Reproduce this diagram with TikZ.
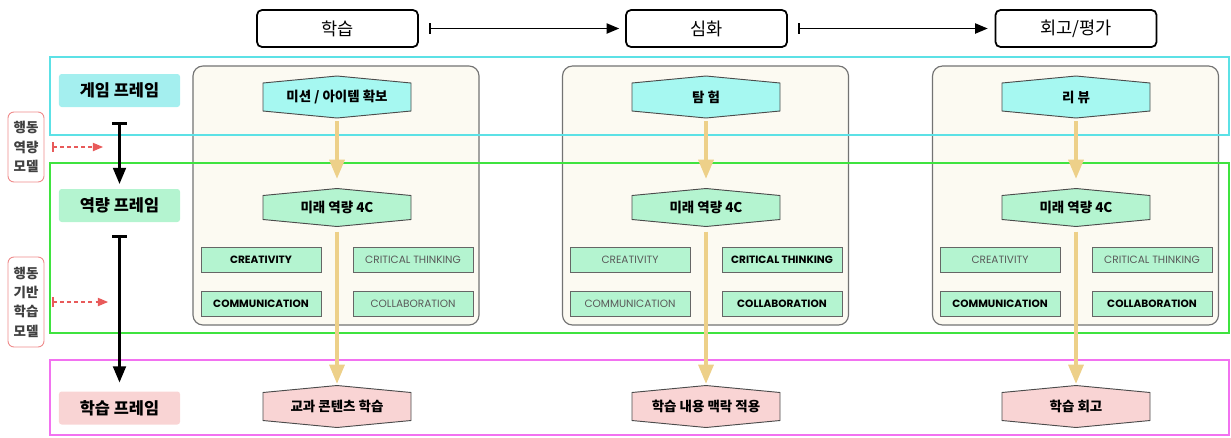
\documentclass[tikz,border=0pt]{standalone}
\usepackage{fontspec}
\setmainfont{Noto Sans CJK KR}
\newfontfamily\capsfont{Poppins}
\usetikzlibrary{arrows}

\definecolor{framecyan}{HTML}{5CE1E6}
\definecolor{framegreen}{HTML}{3FE33F}
\definecolor{framepink}{HTML}{F272F0}
\definecolor{gamefill}{HTML}{A4EFEF}
\definecolor{hexcyan}{HTML}{A6F8F1}
\definecolor{capfill}{HTML}{B4F4D0}
\definecolor{learnfill}{HTML}{F9D4D4}
\definecolor{panelfill}{HTML}{FCFAF2}
\definecolor{goldline}{HTML}{EDD089}
\definecolor{redline}{HTML}{E85A5A}

% hexagon: name, centre, fill, half side, text
\newcommand{\hexbox}[5]{%
  \coordinate (#1) at (#2);
  \draw[hexline,fill=#3] (#1) ++(-74,-#4) -- ++(0,2*#4) -- ++(74,7) -- ++(74,-7)
    -- ++(0,-2*#4) -- ++(-74,-7) -- cycle;
  \node[hextext] (#1-t) at (#1) {#5};
  \path (#1) ++(0,#4+7) coordinate (#1-s);
  \path (#1) ++(0,-#4-7) coordinate (#1-n);
}

\begin{document}
\begin{tikzpicture}[x=0.03cm, y=-0.03cm, >=triangle 45]
	\tikzstyle{stage} = [draw=black, line width=1.5pt, rounded corners=0.15cm, fill=white, minimum width=4.83cm, minimum height=1.11cm, inner sep=0pt, font=\fontsize{15}{17}\selectfont]
	\tikzstyle{framelabel} = [rounded corners=0.08cm, minimum width=3.63cm, minimum height=0.99cm, inner sep=0pt, font=\bfseries\fontsize{14}{16}\selectfont]
	\tikzstyle{modelbox} = [draw=redline!70, line width=0.8pt, rounded corners=0.18cm, fill=white, minimum width=1.08cm, inner sep=0pt, align=center, text=black!75, font=\bfseries\fontsize{11.5}{16.5}\selectfont]
	\tikzstyle{panel} = [draw=black!55, line width=1pt, rounded corners=0.3cm, fill=panelfill, minimum width=8.58cm, minimum height=7.77cm]
	\tikzstyle{hexline} = [draw=black!70, line width=0.8pt]
	\tikzstyle{hextext} = [inner sep=0pt, font=\bfseries\fontsize{11.5}{13}\selectfont]
	\tikzstyle{skill} = [draw=black!60, line width=0.8pt, fill=capfill, minimum width=3.6cm, minimum height=0.75cm, inner sep=0pt, text=black!65, font=\capsfont\fontsize{9}{10}\selectfont]
	\tikzstyle{skillon} = [skill, text=black, font=\capsfont\bfseries\fontsize{9}{10}\selectfont]
	\tikzstyle{goldarrow} = [->, goldline, line width=2.8pt]
	\useasboundingbox (0,0) rectangle (1231,437);

	% three stages
	\node[stage] (learn) at (337.5,28.5) {학습};
	\node[stage] (deepen) at (706.5,28.5) {심화};
	\node[stage] (review) at (1076,28.5) {회고/평가};
	\draw[|->, line width=1.5pt, shorten <=0.3cm, shorten >=0.18cm] (learn) -- (deepen);
	\draw[|->, line width=1.5pt, shorten <=0.3cm, shorten >=0.21cm] (deepen) -- (review);

	% column panels
	\node[panel] (panelA) at (336,195.5) {};
	\node[panel] (panelB) at (705.5,195.5) {};
	\node[panel] (panelC) at (1075.5,195.5) {};

	% frames
	\draw[framecyan, line width=2.5pt] (50,57) rectangle (1229,135);
	\draw[framegreen, line width=2.5pt] (50,163) rectangle (1229,333);
	\draw[framepink, line width=2.5pt] (50,360) rectangle (1229,435);

	% left side
	\node[framelabel, fill=gamefill] (gameframe) at (119.5,90.5) {게임 프레임};
	\node[framelabel, fill=capfill] (capframe) at (119.5,205.5) {역량 프레임};
	\node[framelabel, fill=learnfill] (learnframe) at (119.5,408) {학습 프레임};
	\draw[|->, line width=2.2pt, shorten <=0.45cm, shorten >=0.15cm] (gameframe) -- (capframe);
	\draw[|->, line width=2.2pt, shorten <=0.39cm, shorten >=0.27cm] (capframe) -- (learnframe);

	\node[modelbox, minimum height=2.1cm] (compmodel) at (26,147) {행동\\역량\\모델};
	\node[modelbox, minimum height=2.7cm] (actmodel) at (26,302) {행동\\기반\\학습\\모델};
	\coordinate (comptip) at (103,147);
	\coordinate (acttip) at (108,302);
	\draw[|->, dashed, redline, line width=1pt, shorten <=0.24cm] (compmodel) -- (comptip);
	\draw[|->, dashed, redline, line width=1pt, shorten <=0.24cm] (actmodel) -- (acttip);

	% hexagons
	\hexbox{mission}{337,97}{hexcyan}{14}{미션 / 아이템 확보}
	\hexbox{explore}{706,97}{hexcyan}{14}{탐 험}
	\hexbox{recap}{1076,97}{hexcyan}{14}{리 뷰}
	\hexbox{fourA}{337,207.5}{capfill}{12}{미래 역량 4C}
	\hexbox{fourB}{706,207.5}{capfill}{12}{미래 역량 4C}
	\hexbox{fourC}{1076,207.5}{capfill}{12}{미래 역량 4C}
	\hexbox{subject}{337,406.5}{learnfill}{14}{교과 콘텐츠 학습}
	\hexbox{context}{706,406.5}{learnfill}{14}{학습 내용 맥락 적용}
	\hexbox{reflect}{1076,406.5}{learnfill}{14}{학습 회고}

	% 4C
	\node[skillon] (creaA) at (261,259.5) {CREATIVITY};
	\node[skill] (critA) at (413,259.5) {CRITICAL THINKING};
	\node[skillon] (commA) at (261,304) {COMMUNICATION};
	\node[skill] (collA) at (413,304) {COLLABORATION};
	\node[skill] (creaB) at (630,259.5) {CREATIVITY};
	\node[skillon] (critB) at (782,259.5) {CRITICAL THINKING};
	\node[skill] (commB) at (630,304) {COMMUNICATION};
	\node[skillon] (collB) at (782,304) {COLLABORATION};
	\node[skill] (creaC) at (1000,259.5) {CREATIVITY};
	\node[skill] (critC) at (1152,259.5) {CRITICAL THINKING};
	\node[skillon] (commC) at (1000,304) {COMMUNICATION};
	\node[skillon] (collC) at (1152,304) {COLLABORATION};

	% flow
	\draw[goldarrow, shorten <=0.09cm, shorten >=0.3cm] (mission-s) -- (fourA-n);
	\draw[goldarrow, shorten <=0.09cm, shorten >=0.3cm] (explore-s) -- (fourB-n);
	\draw[goldarrow, shorten <=0.09cm, shorten >=0.3cm] (recap-s) -- (fourC-n);
	\draw[goldarrow, shorten <=0.15cm, shorten >=0.06cm] (fourA-s) -- (subject-n);
	\draw[goldarrow, shorten <=0.15cm, shorten >=0.06cm] (fourB-s) -- (context-n);
	\draw[goldarrow, shorten <=0.15cm, shorten >=0.06cm] (fourC-s) -- (reflect-n);
\end{tikzpicture}
\end{document}
